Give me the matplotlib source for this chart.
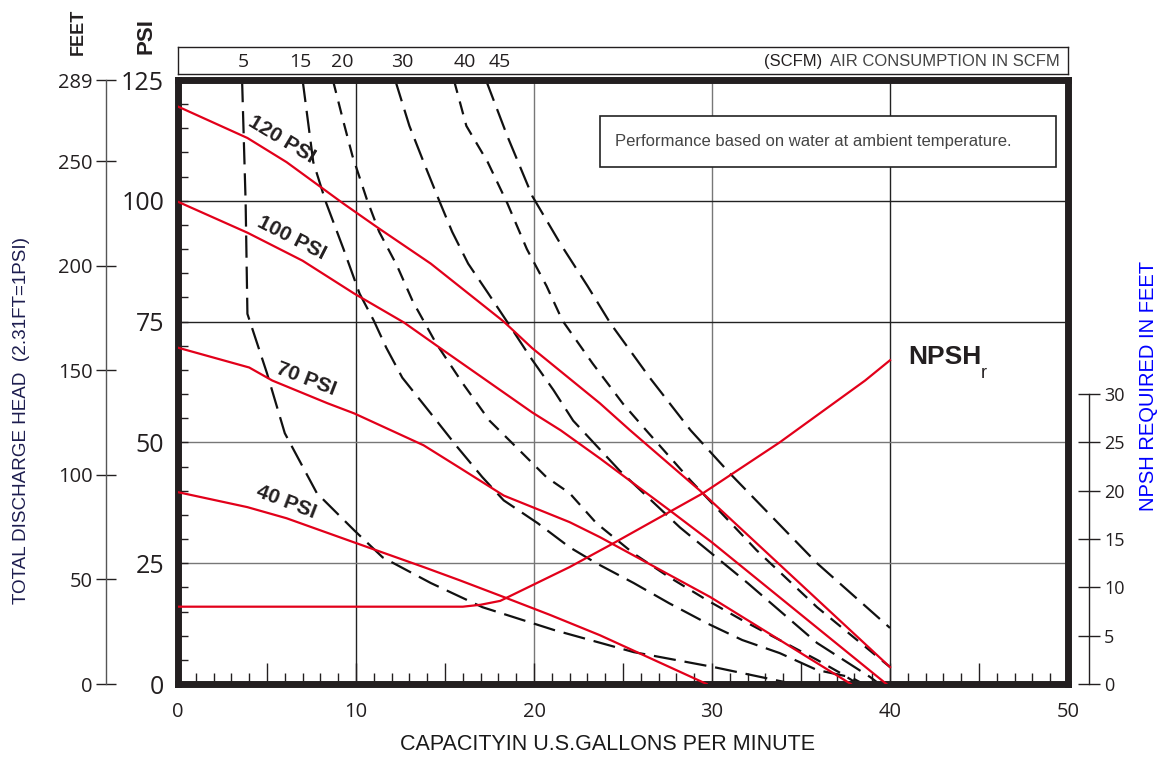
import matplotlib
matplotlib.use('Agg')
import matplotlib.pyplot as plt
from matplotlib import font_manager
from matplotlib.patches import Rectangle
import numpy as np

# ---- data (x = capacity in US GPM, y = discharge head in PSI) ----
psi120_x = [0, 3.9, 6.1, 9.3, 11.2, 14.2, 18.3, 19.9, 23.7, 25.4, 29.3, 40]
psi120_y = [119.5, 113, 108, 99.4, 94.5, 87, 75, 69.5, 58.1, 52.5, 40.1, 3.5]
psi100_x = [0, 3.9, 7, 9.9, 12.7, 14.7, 19.9, 21.5, 23.7, 27.6, 30, 39.8]
psi100_y = [99.8, 93.4, 87.6, 80.8, 74.8, 69.6, 56.2, 52.5, 46.7, 36, 29.3, 0]
psi70_x = [0, 4, 5.3, 8.4, 9.9, 13.8, 15.8, 18.3, 22, 23.7, 29.9, 37.8]
psi70_y = [69.6, 65.5, 62.8, 58.1, 56, 49.4, 44.8, 39, 33.5, 30.4, 18, 0]
psi40_x = [0, 3.9, 6.1, 8, 9.9, 13.8, 15.8, 18.3, 20.9, 23.7, 29.7]
psi40_y = [39.7, 36.6, 34.3, 31.8, 29.3, 24.2, 21.5, 18, 14.3, 10.1, 0]

# air consumption curves (SCFM)
scfm5_x = [3.6, 3.8, 3.9, 5.0, 6.0, 7.8, 9.9, 11.5, 14.2, 17.1, 21.1, 25.6, 30.1, 34.6]
scfm5_y = [125, 99.6, 76.6, 64.3, 51.9, 39.5, 31.8, 26.2, 20.9, 15.9, 11.2, 6.6, 3.5, 0]
scfm15_x = [7.0, 7.6, 8.3, 9.3, 10.2, 11.0, 11.7, 12.6, 14.2, 15.7, 17.1, 18.3, 20.2, 22,
            23.5, 25.6, 27.6, 29.7, 31.7, 33.8, 35.9, 37.8, 38.5]
scfm15_y = [125, 108, 99.8, 90, 80.8, 75.2, 69.6, 63.4, 56, 49, 42.8, 38, 33.3, 28.3,
            25, 20.9, 16.7, 12.6, 9.1, 6.4, 2.9, 1.4, 0]
scfm20_x = [8.7, 9.3, 9.8, 10.6, 11.3, 12.3, 13.2, 14.5, 16.0, 17.5, 19.2, 20.7, 22, 23.5,
            25.6, 27.6, 29.7, 31.7, 33.8, 35.9, 37.2, 38.2]
scfm20_y = [125, 116.3, 109.3, 100.4, 93.6, 86.6, 79.1, 70.5, 62.2, 54.5, 48.3, 42.8, 39.5, 33.3,
            27, 22.1, 17.4, 13.2, 9.1, 5, 2.3, 0]
scfm30_x = [12.2, 13, 13.8, 14.7, 15.4, 16.3, 17.4, 18.7, 19.8, 21.1, 22.2, 24.8, 28.2, 32, 35.9, 38.9, 39.4]
scfm30_y = [125, 115.5, 108, 99.8, 93.6, 87, 81, 73.8, 67.6, 60.8, 54.5, 44.2, 32.4, 20.9, 8.5, 1.4, 0]
scfm40_x = [15.5, 16.2, 17.4, 18.5, 19.6, 20.7, 21.6, 23.3, 25, 26.3, 28.8, 32.5, 35.9, 40]
scfm40_y = [125, 115.5, 108, 99.5, 90, 82.4, 75.2, 66.3, 58, 52.5, 42.1, 27.7, 15.9, 3.5]
scfm45_x = [17.3, 18.5, 19.9, 21.5, 23, 24.3, 26.5, 28.8, 31, 35.9, 40]
scfm45_y = [125, 113.4, 101, 91, 82.4, 74.6, 63.4, 52.5, 43.6, 25, 11.6]
scfm_labels = ['5', '15', '20', '30', '40', '45']

# NPSH required (feet)
npsh_x = [0, 16, 17, 18.1, 22, 24.4, 29.5, 33.8, 38.6, 40]
npsh_ft = [8, 8, 8.2, 8.6, 12.1, 14.5, 19.75, 25, 31.4, 33.5]

feet_ticks = [0, 50, 100, 150, 200, 250]

# ---- styling ----
RED = '#e2001a'
INK = '#231f20'
names = {f.name for f in font_manager.fontManager.ttflist}
NARROW = 'Liberation Sans Narrow' if 'Liberation Sans Narrow' in names else 'Liberation Sans'
plt.rcParams['font.family'] = ['Liberation Sans', 'DejaVu Sans']
NUMF = ['Open Sans', 'DejaVu Sans']

W, H = 1162, 760
fig = plt.figure(figsize=(W / 100, H / 100), dpi=100)
ax = fig.add_axes([178 / W, 76 / H, 890 / W, 604 / H])
ax.set_xlim(0, 50)
ax.set_ylim(0, 125)

# grid
for gx, c in zip([10, 20, 30, 40], ['#222222', '#777777', '#777777', '#222222']):
    ax.axvline(gx, color=c, lw=1, zorder=1)
for gy, c in zip([25, 50, 75, 100], ['#777777', '#777777', '#222222', '#222222']):
    ax.axhline(gy, color=c, lw=1, zorder=1)

# pump curves
for xs, ys in [(psi120_x, psi120_y), (psi100_x, psi100_y), (psi70_x, psi70_y), (psi40_x, psi40_y)]:
    ax.plot(xs, ys, color=RED, lw=1.6, zorder=3)

long_dash = (0, (10, 4))
short_dash = (0, (6, 4))
scfm_curves = [(scfm5_x, scfm5_y, long_dash), (scfm15_x, scfm15_y, long_dash),
               (scfm20_x, scfm20_y, short_dash), (scfm30_x, scfm30_y, long_dash),
               (scfm40_x, scfm40_y, short_dash), (scfm45_x, scfm45_y, long_dash)]
for xs, ys, ls in scfm_curves:
    ax.plot(xs, ys, color='#111111', lw=1.6, ls=ls, zorder=2)

for s in ax.spines.values():
    s.set_linewidth(5)
    s.set_color(INK)
ax.set_xticks(np.arange(0, 51, 5))
ax.set_xticklabels([str(v) if v % 10 == 0 else '' for v in range(0, 51, 5)], fontfamily=NUMF)
ax.set_xticks(np.arange(0, 51, 1), minor=True)
ax.set_yticks(range(0, 126, 25))
ax.set_yticklabels([str(v) for v in range(0, 126, 25)], fontfamily=NUMF)
ax.set_yticks(range(0, 126, 5), minor=True)
ax.tick_params(axis='x', which='major', direction='in', length=15, width=1, pad=13,
               labelsize=14.5, colors=INK)
ax.tick_params(axis='x', which='minor', direction='in', length=8, width=1, colors=INK)
ax.tick_params(axis='y', which='both', direction='in', length=7, width=1, colors=INK)
ax.tick_params(axis='y', which='major', pad=10, labelsize=18)

# performance note
ax.add_patch(Rectangle((0.474, 0.856), 0.5125, 0.084, transform=ax.transAxes,
                       fc='white', ec='#222222', lw=1.2, zorder=4))
ax.text(0.491, 0.898, 'Performance based on water at ambient temperature.', transform=ax.transAxes,
        fontsize=12, color='#444444', va='center', ha='left', zorder=5)

# curve labels
for txt, lx, ly, rot in [('120 PSI', 5.85, 112.8, -31), ('100 PSI', 6.4, 92.4, -27),
                         ('70 PSI', 7.2, 63.2, -21), ('40 PSI', 6.1, 37.6, -21)]:
    ax.text(lx, ly, txt, rotation=rot, ha='center', va='center', fontsize=15,
            fontweight='bold', family=NARROW, color=INK, zorder=5)
ax.text(41.0, 67.6, 'NPSH', fontsize=19, fontweight='bold', family=NARROW, color=INK,
        ha='left', va='center')
ax.text(45.1, 64.2, 'r', fontsize=13, family=NARROW, color=INK, ha='left', va='center')

# feet scale on the far left
axf = ax.twinx()
axf.set_ylim(0, 125 * 2.31)
for s in axf.spines.values():
    s.set_visible(False)
axf.yaxis.set_ticks_position('left')
axf.spines['left'].set_visible(True)
axf.spines['left'].set_position(('outward', 52))
axf.spines['left'].set_color('#555555')
axf.spines['left'].set_linewidth(1)
axf.set_yticks(feet_ticks + [125 * 2.31])
axf.set_yticklabels([str(v) for v in feet_ticks] + ['289'], fontfamily=NUMF)
axf.tick_params(axis='y', direction='inout', length=15, width=1, pad=2, labelsize=14.5,
                colors=INK)

# NPSH scale on the right
axn = ax.twinx()
axn.set_ylim(0, 62.5)
for s in axn.spines.values():
    s.set_visible(False)
axn.spines['right'].set_visible(True)
axn.spines['right'].set_position(('outward', 15))
axn.spines['right'].set_bounds(0, 30)
axn.spines['right'].set_color(INK)
axn.spines['right'].set_linewidth(1)
axn.set_yticks(range(0, 31, 5))
axn.set_yticklabels([str(v) for v in range(0, 31, 5)], fontfamily=NUMF)
axn.tick_params(axis='y', direction='inout', length=16, width=1, pad=3, labelsize=13,
                colors=INK)
axn.plot(npsh_x, npsh_ft, color=RED, lw=1.6, zorder=3)

# air consumption strip on top
axt = fig.add_axes([178 / W, (H - 74) / H, 890 / W, 27 / H])
axt.set_xlim(0, 50)
axt.set_ylim(0, 1)
axt.set_xticks([])
axt.set_yticks([])
for s in axt.spines.values():
    s.set_linewidth(1)
    s.set_color(INK)
for lab, lx in zip(scfm_labels, [3.65, 6.85, 9.2, 12.6, 16.1, 18.1]):
    axt.text(lx, 0.45, lab, ha='center', va='center', fontsize=14, family=NUMF, color=INK)
axt.text(49.55, 0.45, 'AIR CONSUMPTION IN SCFM', ha='right', va='center', fontsize=12,
         family=NARROW, color='#444444')
axt.text(36.2, 0.45, '(SCFM)', ha='right', va='center', fontsize=12, family=NARROW, color=INK)

# axis titles
fig.text(608 / W, 1 - 745 / H, 'CAPACITYIN U.S.GALLONS PER MINUTE', ha='center', va='center',
         fontsize=15.5, color='#1a1a1a')
fig.text(22 / W, 1 - 421 / H, 'TOTAL DISCHARGE HEAD  (2.31FT=1PSI)', rotation=90, ha='center',
         va='center', fontsize=13.6, color='#1d1d4f')
fig.text(1148 / W, 1 - 386 / H, 'NPSH REQUIRED IN FEET', rotation=90, ha='center', va='center',
         fontsize=14.5, color='#0000ff')
fig.text(78 / W, 1 - 32 / H, 'FEET', rotation=90, ha='center', va='center', fontsize=13,
         fontweight='bold', family=NARROW, color=INK)
fig.text(146 / W, 1 - 36 / H, 'PSI', rotation=90, ha='center', va='center', fontsize=16,
         fontweight='bold', family=NARROW, color=INK)

fig.savefig('out.png', dpi=100, facecolor='white')
